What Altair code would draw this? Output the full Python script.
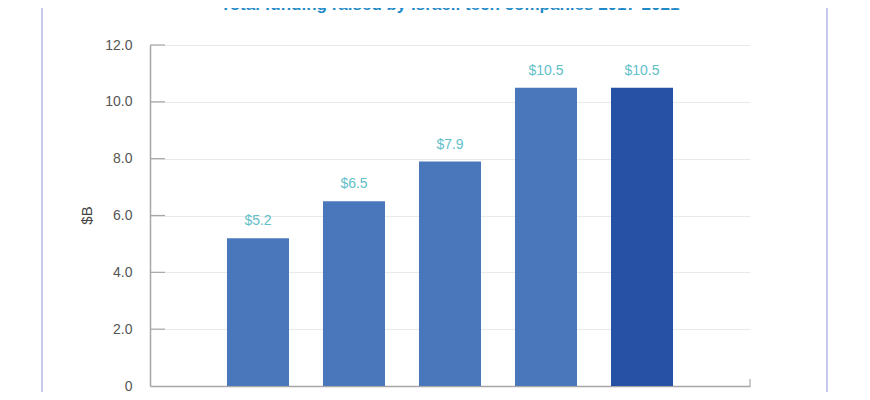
import altair as alt
import pandas as pd

YEARS = ["2017", "2018", "2019", "2020", "2021"]
VALUES = [5.2, 6.5, 7.9, 10.5, 10.5]
BAR_COLORS = ["#4a76bc", "#4a76bc", "#4a76bc", "#4a76bc", "#2751a5"]
TICKS = [0, 2, 4, 6, 8, 10, 12]
TITLE = "Total funding raised by Israeli tech companies 2017-2021"
Y_TITLE = "$B"

df = pd.DataFrame({"year": YEARS, "value": VALUES})
ticks_df = pd.DataFrame({"v": TICKS})
title_df = pd.DataFrame({"t": [TITLE]})

W, H = 600, 341

frame = alt.Chart(title_df).mark_rect(
    filled=False, stroke="#c6c8ec", strokeWidth=2, cornerRadius=12
).encode(
    x=alt.value(-108), x2=alt.value(677), y=alt.value(-80), y2=alt.value(420)
)

title = alt.Chart(title_df).mark_text(
    align="center", baseline="alphabetic", fontSize=17, fontWeight="bold",
    color="#1f8ac8", font="Liberation Sans"
).encode(x=alt.value(W / 2), y=alt.value(-35), text="t:N")

base = alt.Chart(df)

bars = base.mark_bar().encode(
    x=alt.X("year:O", sort=YEARS,
            scale=alt.Scale(paddingInner=0.354, paddingOuter=0.802),
            axis=alt.Axis(labels=False, ticks=False, title=None,
                          domainColor="#a6a6a6", domainWidth=1.5)),
    y=alt.Y("value:Q", scale=alt.Scale(domain=[0, 12], nice=False),
            axis=alt.Axis(values=TICKS,
                          labelExpr="datum.value == 0 ? '0' : format(datum.value, '.1f')",
                          ticks=False, labelPadding=18, labelFontSize=14,
                          labelColor="#555555", labelFont="Liberation Sans",
                          gridColor="#e9e9e9", domainColor="#a6a6a6", domainWidth=1.5,
                          title=Y_TITLE, titleX=-56, titleY=170, titleFontSize=15,
                          titleFontWeight="normal", titleColor="#444444",
                          titleFont="Liberation Sans")),
    color=alt.Color("year:O", scale=alt.Scale(domain=YEARS, range=BAR_COLORS), legend=None),
)

labels = base.transform_calculate(
    lab="'$' + format(datum.value, '.1f')"
).mark_text(
    dy=-10, baseline="bottom", fontSize=14, color="#62c0c9", font="Liberation Sans"
).encode(
    x=alt.X("year:O", sort=YEARS),
    y=alt.Y("value:Q"),
    text="lab:N",
)

inner_ticks = alt.Chart(ticks_df).transform_filter("datum.v > 0").mark_rule(
    color="#a6a6a6", strokeWidth=1.2
).encode(
    y=alt.Y("v:Q"), x=alt.value(0), x2=alt.value(15)
)

end_tick = alt.Chart(title_df).mark_rule(color="#a6a6a6", strokeWidth=1.2).encode(
    x=alt.value(W), y=alt.value(H), y2=alt.value(H - 7)
)

chart = alt.layer(frame, title, bars, labels, inner_ticks, end_tick).properties(
    width=W, height=H,
    autosize=alt.AutoSizeParams(type="none"),
    padding={"left": 142, "top": 37, "right": 100, "bottom": 6},
).configure_view(stroke=None)

chart.save("out.html", embed_options={"renderer": "svg", "actions": False})
